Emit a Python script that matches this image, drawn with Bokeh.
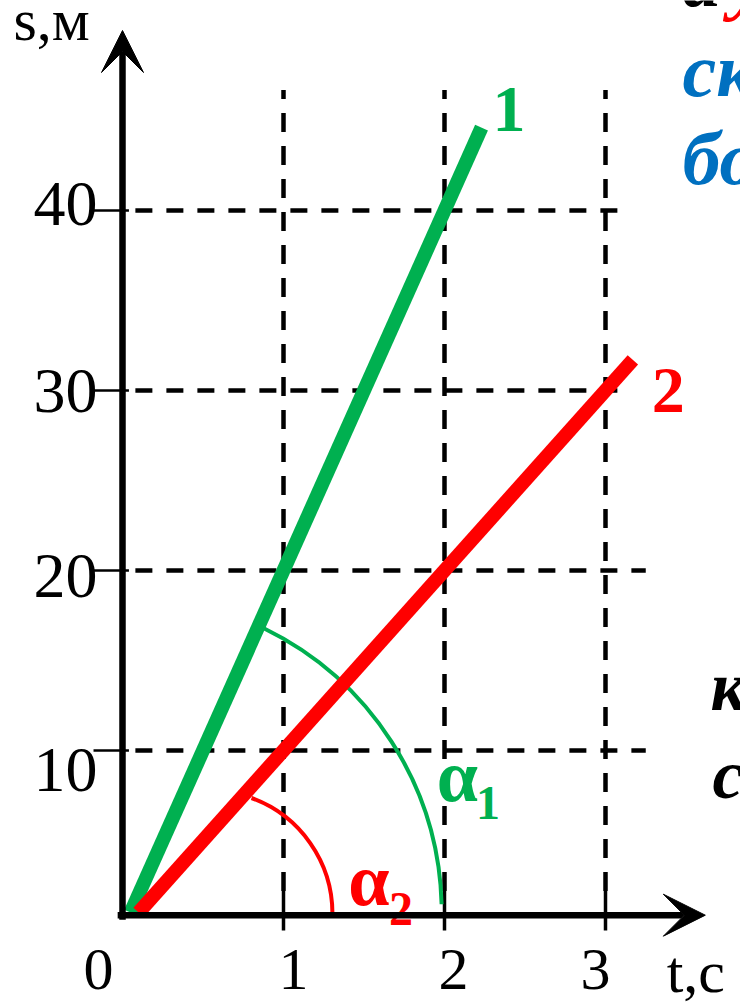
from bokeh.plotting import figure
from bokeh.models import Range1d, Arrow, VeeHead
from bokeh.core.properties import value
from bokeh.embed import file_html
from bokeh.resources import INLINE

# ---- data ----
t_ticks = [1, 2, 3]
t_tick_labels = ["1", "2", "3"]
origin_label = "0"
s_ticks = [10, 20, 30, 40]
s_tick_labels = ["10", "20", "30", "40"]
x_title = "t,с"
y_title = "s,м"

line1_t = [0.05, 2.23]   # green, body 1
line1_s = [1.0, 44.6]
line2_t = [0.1, 3.17]    # red, body 2
line2_s = [1.0, 31.7]

GREEN = "#00B050"
RED = "#FF0000"
BLUE = "#0070C0"
SERIF = value("Liberation Serif")

W, H = 740, 1002
PX_T, PX_S = 161.0, 18.0
OX, OY = 122.0, 930.0  # canvas px of t=0, s=0

p = figure(width=W, height=H,
           x_range=Range1d(-OX / PX_T, (W - OX) / PX_T),
           y_range=Range1d((OY - H) / PX_S, OY / PX_S),
           output_backend="svg", toolbar_location=None,
           x_axis_location=None, y_axis_location=None,
           min_border=0, min_border_left=0, min_border_right=0,
           min_border_top=0, min_border_bottom=0)
p.outline_line_color = None
p.grid.visible = False
p.background_fill_color = "white"
p.border_fill_color = "white"

# dashed grid
p.segment(x0=[0.08] * 4, y0=s_ticks, x1=[3.25, 3.25, 3.16, 3.16], y1=s_ticks,
          line_color="black", line_width=4.5, line_dash="17 14")
p.segment(x0=t_ticks, y0=[2.2] * 3, x1=t_ticks, y1=[46.7] * 3,
          line_color="black", line_width=4.5, line_dash="19 14")
# small tick marks
p.segment(x0=[-0.18] * 4, y0=s_ticks, x1=[0.04] * 4, y1=s_ticks,
          line_color="black", line_width=2.5)
p.segment(x0=t_ticks, y0=[2.2] * 3, x1=t_ticks, y1=[0.0] * 3,
          line_color="black", line_width=3.5)

# axes with arrows
p.add_layout(Arrow(end=VeeHead(size=42, fill_color="black", line_color="black"),
                   x_start=0, y_start=0.6, x_end=0, y_end=50.0,
                   line_width=6.5, line_color="black"))
p.add_layout(Arrow(end=VeeHead(size=42, fill_color="black", line_color="black"),
                   x_start=-0.03, y_start=0.85, x_end=3.62, y_end=0.85,
                   line_width=6.5, line_color="black"))

# angle arcs
p.arc(x=[0.02], y=[1.0], radius=316, radius_units="screen",
      start_angle=1.5, end_angle=64, start_angle_units="deg", end_angle_units="deg",
      line_color=GREEN, line_width=4)
p.arc(x=[0.54], y=[0.94], radius=123, radius_units="screen",
      start_angle=0, end_angle=70, start_angle_units="deg", end_angle_units="deg",
      line_color=RED, line_width=4)

# motion lines
p.line(line1_t, line1_s, line_color=GREEN, line_width=14)
p.line(line2_t, line2_s, line_color=RED, line_width=14)

# tick labels
p.text(x=[0] * 4, y=s_ticks, text=s_tick_labels, x_offset=-25, y_offset=[19, 5, 0, -7],
       text_align="right", text_baseline="middle",
       text_font=SERIF, text_font_size="64px", text_color="black")
p.text(x=t_ticks, y=[0] * 3, text=t_tick_labels, x_offset=[10, 9, -10], y_offset=39,
       text_align="center", text_baseline="middle",
       text_font=SERIF, text_font_size="60px", text_color="black")
p.text(x=[0], y=[0], text=[origin_label], x_offset=-24, y_offset=39,
       text_align="center", text_baseline="middle",
       text_font=SERIF, text_font_size="60px", text_color="black")
p.text(x=[3.38], y=[0], text=[x_title], y_offset=41,
       text_align="left", text_baseline="middle",
       text_font=SERIF, text_font_size="60px", text_color="black")
p.text(x=[-0.677], y=[50.56], text=[y_title],
       text_align="left", text_baseline="middle",
       text_font=SERIF, text_font_size="60px", text_color="black")

# line labels
p.text(x=[2.40], y=[45.6], text=["1"], text_align="center", text_baseline="middle",
       text_font=SERIF, text_font_size="66px", text_font_style="bold", text_color=GREEN)
p.text(x=[3.39], y=[30.0], text=["2"], text_align="center", text_baseline="middle",
       text_font=SERIF, text_font_size="66px", text_font_style="bold", text_color=RED)

# angle labels
p.text(x=[2.08], y=[8.6], text=["α"], text_align="center", text_baseline="middle",
       text_font=SERIF, text_font_size="74px", text_font_style="bold", text_color=GREEN)
p.text(x=[2.27], y=[7.06], text=["1"], text_align="center", text_baseline="middle",
       text_font=SERIF, text_font_size="48px", text_font_style="bold", text_color=GREEN)
p.text(x=[1.53], y=[2.78], text=["α"], text_align="center", text_baseline="middle",
       text_font=SERIF, text_font_size="74px", text_font_style="bold", text_color=RED)
p.text(x=[1.73], y=[1.22], text=["2"], text_align="center", text_baseline="middle",
       text_font=SERIF, text_font_size="48px", text_font_style="bold", text_color=RED)

# cut-off slide text on the right
p.text(x=[3.478], y=[52.83], text=["а"], text_align="left", text_baseline="middle",
       text_font=SERIF, text_font_size="76px", text_font_style="bold italic", text_color="black")
p.text(x=[3.776], y=[52.83], text=["у"], text_align="left", text_baseline="middle",
       text_font=SERIF, text_font_size="76px", text_font_style="bold italic", text_color=RED)
p.text(x=[3.478] * 2, y=[47.83, 42.94], text=["скорость", "больше"],
       text_align="left", text_baseline="middle",
       text_font=SERIF, text_font_size="76px", text_font_style="bold italic", text_color=BLUE)
p.text(x=[3.652, 3.665], y=[13.56, 8.67], text=["к", "с"],
       text_align="left", text_baseline="middle",
       text_font=SERIF, text_font_size="70px", text_font_style="bold italic", text_color="black")

open("out.html", "w").write(file_html(p, INLINE))
